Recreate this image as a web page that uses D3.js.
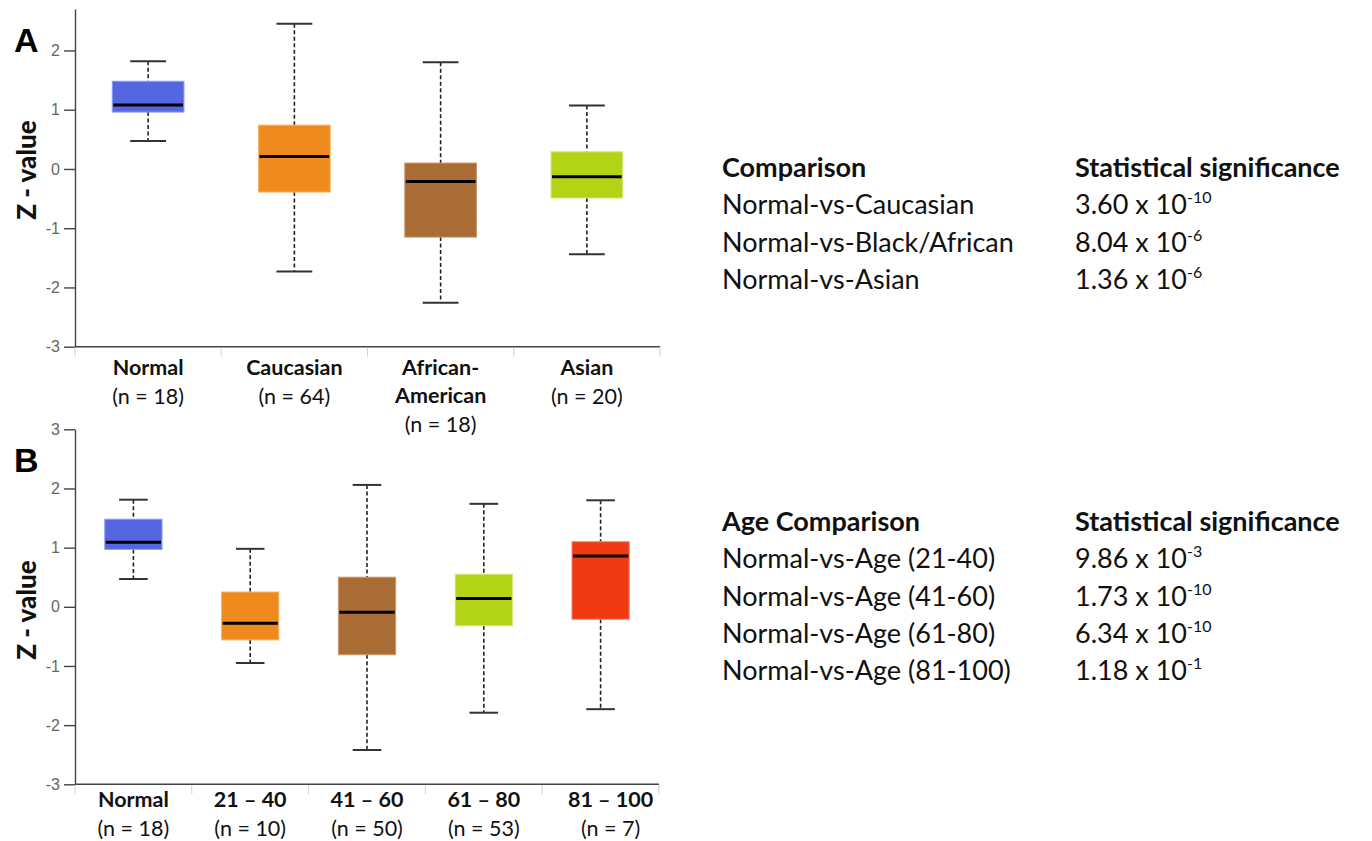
<!DOCTYPE html>
<html>
<head>
<meta charset="utf-8">
<script src="https://cdn.jsdelivr.net/npm/d3@7"></script>
<style>
  body { margin: 0; background: #fff; }
  svg { display: block; }
</style>
</head>
<body>
<div id="chart"></div>
<script>
// box plot values (z-values)

// panel A: race
const groupsA = ["Normal", "Caucasian", "African-American", "Asian"];
const countsA = [18, 64, 18, 20];
const lowA    = [0.47, -1.73, -2.26, -1.44];
const q1A     = [0.96, -0.39, -1.15, -0.49];
const medA    = [1.08, 0.21, -0.21, -0.13];
const q3A     = [1.48, 0.74, 0.10, 0.29];
const highA   = [1.82, 2.45, 1.80, 1.07];
const ticksA  = [-3, -2, -1, 0, 1, 2];

// panel B: age
const groupsB = ["Normal", "21 – 40", "41 – 60", "61 – 80", "81 – 100"];
const countsB = [18, 10, 50, 53, 7];
const lowB    = [0.47, -0.95, -2.42, -1.79, -1.73];
const q1B     = [0.97, -0.56, -0.81, -0.32, -0.21];
const medB    = [1.09, -0.28, -0.09, 0.14, 0.86];
const q3B     = [1.48, 0.25, 0.50, 0.55, 1.10];
const highB   = [1.81, 0.98, 2.06, 1.74, 1.80];
const ticksB  = [-3, -2, -1, 0, 1, 2, 3];

// significance tables
const compA = ["Normal-vs-Caucasian", "Normal-vs-Black/African", "Normal-vs-Asian"];
const pA    = [["3.60", "-10"], ["8.04", "-6"], ["1.36", "-6"]];
const compB = ["Normal-vs-Age (21-40)", "Normal-vs-Age (41-60)", "Normal-vs-Age (61-80)", "Normal-vs-Age (81-100)"];
const pB    = [["9.86", "-3"], ["1.73", "-10"], ["6.34", "-10"], ["1.18", "-1"]];

const colors = ["#5566e2", "#ef8a1f", "#a86c34", "#b2d316", "#f03a13"];
const strokes = ["#8d99ee", "#f6b26a", "#c9966a", "#d3e877", "#f7826a"];

const width = 1372, height = 841;
const font = "Lato, 'Open Sans', sans-serif";

const svg = d3.select("#chart").append("svg")
  .attr("width", width)
  .attr("height", height)
  .attr("viewBox", [0, 0, width, height]);

function boxPanel(opt) {
  const g = svg.append("g");
  const rows = opt.groups.map((name, i) => ({
    name, n: opt.counts[i], lo: opt.low[i], q1: opt.q1[i],
    med: opt.med[i], q3: opt.q3[i], hi: opt.high[i], ci: opt.colorIdx[i]
  }));

  const x = d3.scaleBand().domain(opt.groups).range(opt.xRange).padding(0);
  const y = d3.scaleLinear().domain(opt.yDomain).range(opt.yRange);
  const boxW = x.bandwidth() * 0.49;
  const capW = boxW * 0.5;

  // y axis
  const yAxis = g.append("g")
    .attr("transform", `translate(${opt.xRange[0]},0)`)
    .call(d3.axisLeft(y).tickValues(opt.ticks).tickFormat(d => String(d))
      .tickSize(11).tickSizeOuter(0).tickPadding(4));
  yAxis.selectAll("path, line").attr("stroke", "#444").attr("stroke-width", 1.4);
  yAxis.selectAll("text").attr("fill", "#666").attr("font-size", 16)
    .attr("font-family", "'Liberation Sans', Arial, sans-serif");

  // x axis line + light band separators
  const y0 = y(opt.ticks[0]);
  g.append("line")
    .attr("x1", opt.xRange[0]).attr("x2", opt.xRange[1])
    .attr("y1", y0).attr("y2", y0)
    .attr("stroke", "#444").attr("stroke-width", 1.4);
  g.selectAll(".sep")
    .data(opt.groups.map(d => x(d) + x.bandwidth()).concat([opt.xRange[0]]))
    .join("line")
      .attr("class", "sep")
      .attr("x1", d => d).attr("x2", d => d)
      .attr("y1", y0 + 1).attr("y2", y0 + 10)
      .attr("stroke", "#c9d3df").attr("stroke-width", 1);

  const box = g.selectAll(".box").data(rows).join("g")
    .attr("class", "box")
    .attr("transform", d => `translate(${x(d.name) + x.bandwidth() / 2},0)`);

  // dashed whiskers
  box.append("line")
    .attr("y1", d => y(d.hi)).attr("y2", d => y(d.q3))
    .attr("stroke", "#222").attr("stroke-width", 1.6).attr("stroke-dasharray", "4,2.5");
  box.append("line")
    .attr("y1", d => y(d.q1)).attr("y2", d => y(d.lo))
    .attr("stroke", "#222").attr("stroke-width", 1.6).attr("stroke-dasharray", "4,2.5");
  // caps
  box.selectAll(".cap").data(d => [d.hi, d.lo]).join("line")
    .attr("class", "cap")
    .attr("x1", -capW / 2).attr("x2", capW / 2)
    .attr("y1", v => y(v)).attr("y2", v => y(v))
    .attr("stroke", "#333").attr("stroke-width", 2);
  // box
  box.append("rect")
    .attr("x", -boxW / 2).attr("width", boxW)
    .attr("y", d => y(d.q3)).attr("height", d => y(d.q1) - y(d.q3))
    .attr("fill", d => colors[d.ci]).attr("stroke", d => strokes[d.ci]).attr("stroke-width", 1);
  // median
  box.append("line")
    .attr("x1", -boxW / 2 + 1).attr("x2", boxW / 2 - 1)
    .attr("y1", d => y(d.med)).attr("y2", d => y(d.med))
    .attr("stroke", "#000").attr("stroke-width", 3);

  // category labels
  const lab = g.selectAll(".lab").data(rows).join("text")
    .attr("class", "lab")
    .attr("text-anchor", "middle")
    .attr("font-family", font)
    .attr("font-size", 21.5)
    .attr("fill", "#111")
    .attr("transform", (d, i) => `translate(${x(d.name) + x.bandwidth() / 2 + (opt.labShift ? opt.labShift[i] : 0)},${opt.labY})`);
  lab.each(function(d) {
    const t = d3.select(this);
    const parts = d.name === "African-American" ? ["African-", "American"] : [d.name];
    parts.forEach((p, k) => {
      t.append("tspan").attr("x", 0).attr("dy", k === 0 ? 0 : 28)
        .attr("font-weight", "bold").text(p);
    });
    t.append("tspan").attr("x", 0).attr("dy", 29).text(`(n = ${d.n})`);
  });

  // panel letter + y title
  g.append("text")
    .attr("x", 14).attr("y", opt.letterY)
    .attr("font-family", "'Liberation Sans', Arial, sans-serif")
    .attr("font-weight", "bold").attr("font-size", 34)
    .text(opt.letter);
  g.append("text")
    .attr("transform", `translate(36,${opt.titleY}) rotate(-90)`)
    .attr("text-anchor", "middle")
    .attr("font-family", font)
    .attr("font-weight", "900").attr("font-size", 26)
    .attr("fill", "#111")
    .text("Z - value");
}

boxPanel({
  groups: groupsA, counts: countsA, low: lowA, q1: q1A, med: medA, q3: q3A, high: highA,
  ticks: ticksA, colorIdx: [0, 1, 2, 3],
  xRange: [75, 660], yDomain: [-3, 2.7], yRange: [346.7, 9],
  labY: 375, letter: "A", letterY: 52, titleY: 170
});

boxPanel({
  groups: groupsB, counts: countsB, low: lowB, q1: q1B, med: medB, q3: q3B, high: highB,
  ticks: ticksB, colorIdx: [0, 1, 2, 3, 4],
  xRange: [75, 659], yDomain: [-3, 3], yRange: [784.3, 429.3],
  labY: 807, labShift: [0, 0, 0, 0, 10], letter: "B", letterY: 472, titleY: 610
});

// significance tables
function sigTable(header, comps, ps, top) {
  const g = svg.append("g")
    .attr("font-family", font).attr("font-size", 27).attr("fill", "#111");
  const rowH = 37.3;
  g.append("text").attr("x", 722).attr("y", top).attr("font-weight", "bold").text(header);
  g.append("text").attr("x", 1075).attr("y", top).attr("font-weight", "bold").text("Statistical significance");
  comps.forEach((c, i) => {
    const yy = top + rowH * (i + 1);
    g.append("text").attr("x", 722).attr("y", yy).text(c);
    const t = g.append("text").attr("x", 1075).attr("y", yy);
    t.append("tspan").text(`${ps[i][0]} x 10`);
    t.append("tspan").attr("dy", -11).attr("font-size", 16).text(ps[i][1]);
  });
}

sigTable("Comparison", compA, pA, 177);
sigTable("Age Comparison", compB, pB, 531);
</script>
</body>
</html>
